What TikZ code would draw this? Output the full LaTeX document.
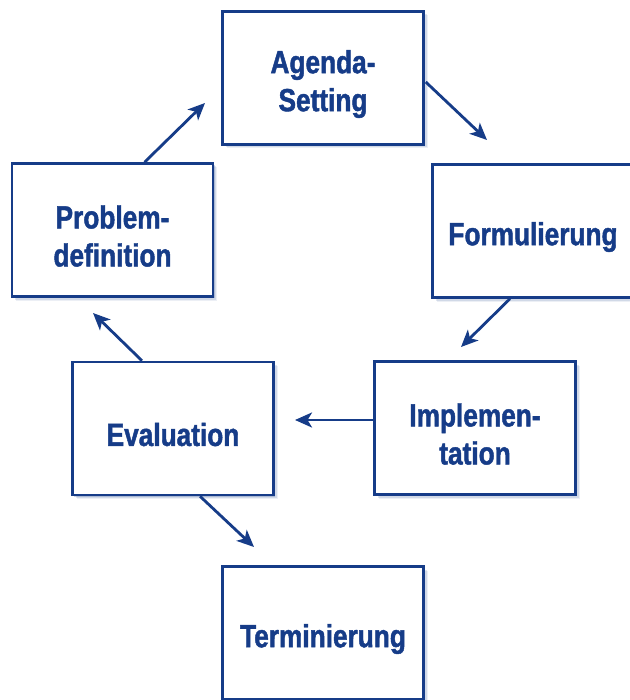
\documentclass[tikz,border=0pt]{standalone}
\usepackage{fontspec}
\setmainfont{Liberation Sans}[FakeStretch=0.82, BoldFeatures={FakeBold=1.4}]
\usetikzlibrary{arrows.meta,shadows,calc}
\definecolor{cycleblue}{RGB}{22,60,136}
\begin{document}
\begin{tikzpicture}[x=1pt,y=-1pt,
  phase/.style={draw=cycleblue, line width=2.5pt, fill=white,
    minimum width=201pt, minimum height=133pt,
    drop shadow={shadow xshift=4pt, shadow yshift=-4pt, fill=cycleblue, opacity=0.08},
    drop shadow={shadow xshift=3pt, shadow yshift=-3pt, fill=cycleblue, opacity=0.12},
    drop shadow={shadow xshift=1.8pt, shadow yshift=-1.8pt, fill=cycleblue, opacity=0.2}},
  caption/.style={align=center, text=cycleblue,
    font=\fontsize{32}{38}\selectfont\bfseries},
  flow/.style={draw=cycleblue, line width=2.8pt,
    -{Stealth[length=17pt,width=15pt,inset=4.5pt]}}]
\useasboundingbox[fill=white] (0,0) rectangle (629,700);

% the six phases of the cycle
\node[phase] (agenda) at (323,78)    {};
\node[phase] (form)   at (533,231)   {};
\node[phase] (prob)   at (112.5,230) {};
\node[phase] (impl)   at (475,428)   {};
\node[phase] (eval)   at (173,428.5) {};
\node[phase] (term)   at (323,633)   {};

% their names, set a little below each box centre
\node[caption] (agendaT) at ($(agenda)+(0,6)$) {Agenda-\\Setting};
\node[caption] (formT)   at ($(form)+(0,6)$)   {Formulierung};
\node[caption] (probT)   at ($(prob)+(0,6)$)   {Problem-\\definition};
\node[caption] (implT)   at ($(impl)+(0,6)$)   {Implemen-\\tation};
\node[caption] (evalT)   at ($(eval)+(0,6)$)   {Evaluation};
\node[caption] (termT)   at ($(term)+(0,6)$)   {Terminierung};

% free arrow ends in the gaps between boxes
\coordinate (toForm) at (487,140);
\coordinate (toImpl) at (461,347);
\coordinate (toEval) at (295,420);
\coordinate (toProb) at (93,313);
\coordinate (toTerm) at (254,547);
\coordinate (toAgen) at (205,103);

\draw[flow] ($(agenda.east)+(1,4)$) -- (toForm);
\draw[flow] ($(form.south)+(-23,0)$) -- (toImpl);
\draw[flow] ($(impl.west)+(0,-8)$) -- (toEval);
\draw[flow] ($(eval.north)+(-31,0)$) -- (toProb);
\draw[flow] ($(eval.south)+(27,0)$) -- (toTerm);
\draw[flow] ($(prob.north)+(32,0)$) -- (toAgen);
\end{tikzpicture}
\end{document}
